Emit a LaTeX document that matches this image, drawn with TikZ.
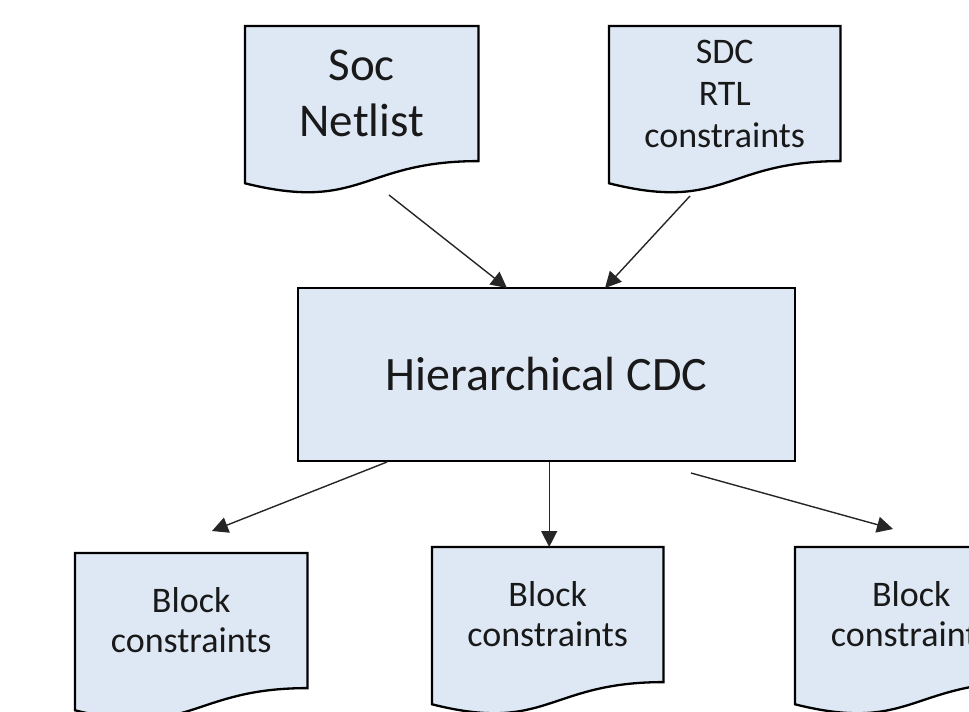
\documentclass[tikz,border=0pt]{standalone}
\usepackage{fontspec}
\setmainfont{Carlito}
\usetikzlibrary{arrows.meta,calc,backgrounds}
\definecolor{docfill}{HTML}{DEE8F5}
\definecolor{linegray}{HTML}{262626}

% Document shape: the node covers the flat upper part, the wavy foot hangs below it
\newcommand{\docoutline}[1]{%
  \begin{scope}[on background layer]
    \draw[outline] (#1.north west) -- (#1.north east) -- (#1.south east)
      .. controls (#1.south) and ($(#1.south)+(0,51.3)$) ..
      ($(#1.south west)+(0,22.2)$) -- cycle;
  \end{scope}}

\tikzset{
  outline/.style={draw=black, line width=2.3pt, fill=docfill, line join=miter},
  docbox/.style={minimum width=#1, minimum height=134.7pt, inner sep=0pt,
    align=center, anchor=north west, text=black!90},
  procbox/.style={outline, minimum width=497pt, minimum height=173pt,
    inner sep=0pt, align=center, text=black!90},
  big/.style={font=\fontsize{47}{56}\selectfont},
  hiertext/.style={font=\fontsize{48}{56}\selectfont},
  mid/.style={font=\fontsize{36}{42}\selectfont},
  small/.style={font=\fontsize{36}{40}\selectfont},
  arr/.style={draw=linegray, line width=1.4pt,
    -{Triangle[length=16pt,width=16pt]}},
}

\begin{document}
\begin{tikzpicture}[x=1pt, y=-1pt]
  \useasboundingbox (0,0) rectangle (969,712);
  \clip (0,0) rectangle (969,712);

  % inputs
  \node[docbox=233pt, big] (soc) at (245,26) {Soc\\Netlist};
  \docoutline{soc}
  \node[docbox=231pt, mid] (sdc) at (609,26) {SDC\\RTL\\constraints};
  \docoutline{sdc}

  % central step
  \node[procbox, hiertext] (hier) at (546.5,374.5) {Hierarchical CDC};

  % outputs
  \node[docbox=232pt, small] (blkA) at (75,553) {Block\\constraints};
  \docoutline{blkA}
  \node[docbox=231pt, small] (blkB) at (432,547) {Block\\constraints};
  \docoutline{blkB}
  \node[docbox=232pt, small] (blkC) at (795,547) {Block\\constraints};
  \docoutline{blkC}

  % connector end points
  \coordinate (socOut) at (389,195);
  \coordinate (socIn)  at (507,288);
  \coordinate (sdcOut) at (690,196);
  \coordinate (sdcIn)  at (605,288);
  \coordinate (hierA)  at (387,462);
  \coordinate (inA)    at (212,531);
  \coordinate (hierC)  at (691,473);
  \coordinate (inC)    at (893,529);

  \draw[arr] (socOut) -- (socIn);
  \draw[arr] (sdcOut) -- (sdcIn);
  \draw[arr] (hierA) -- (inA);
  \draw[arr] (hier.south -| blkB.north) ++(1.5,0) coordinate (hierB) -- (hierB |- blkB.north);
  \draw[arr] (hierC) -- (inC);
\end{tikzpicture}
\end{document}
